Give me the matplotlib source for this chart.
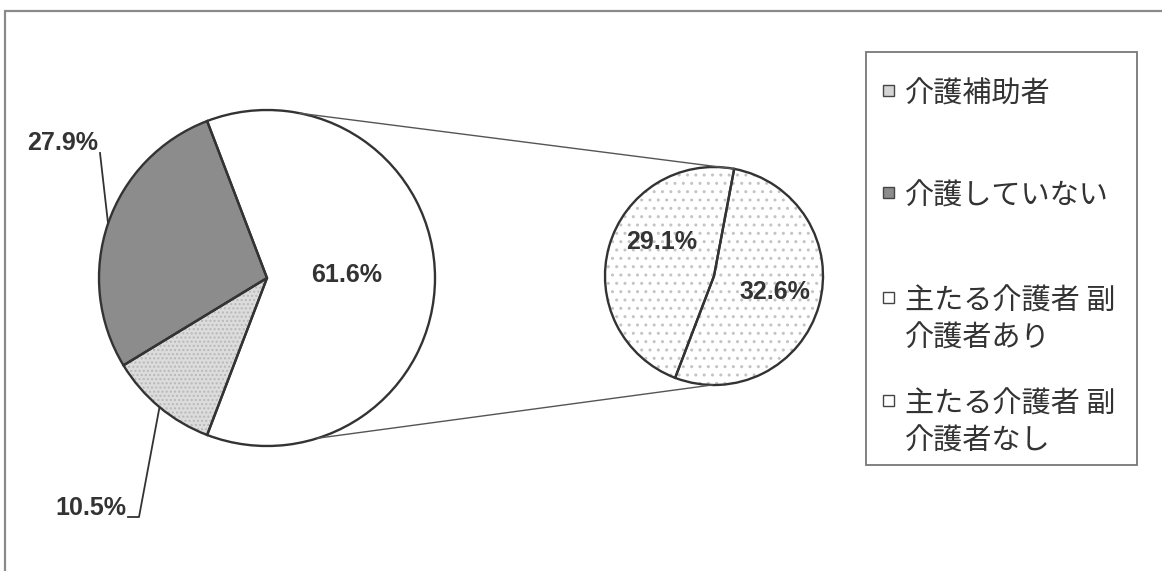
import matplotlib
matplotlib.use("Agg")
import matplotlib.pyplot as plt
from matplotlib.patches import Rectangle
import numpy as np

plt.rcParams['font.family'] = ['Noto Sans CJK JP', 'DejaVu Sans']

# ---- data ----
main_labels = ["主たる介護者", "介護していない", "介護補助者"]
main_values = [61.6, 27.9, 10.5]
sub_labels = ["主たる介護者 副介護者なし", "主たる介護者 副介護者あり"]
sub_values = [32.6, 29.1]
legend_labels = ["介護補助者", "介護していない", "主たる介護者 副介護者あり", "主たる介護者 副介護者なし"]

W, H = 1162, 571
fig = plt.figure(figsize=(W / 100, H / 100), dpi=100)
ax = fig.add_axes([0, 0, 1, 1])

def py(y):  # pixel y (top-down) -> data y
    return H - y

main_c = (267, py(278)); main_r = 168
sub_c = (714, py(276)); sub_r = 109
start = -main_values[0] * 3.6 / 2

# main pie: fill layer with hatch
face_main = ['white', '#8c8c8c', '#dcdcdc']
hatch_main = [None, None, '....']
w1, _ = ax.pie(main_values, center=main_c, radius=main_r, startangle=start,
               counterclock=True, colors=face_main,
               wedgeprops=dict(linewidth=0, edgecolor='#b8b8b8'))
for w, h in zip(w1, hatch_main):
    if h:
        w.set_hatch(h)
ax.pie(main_values, center=main_c, radius=main_r, startangle=start,
       wedgeprops=dict(fill=False, linewidth=1.7, edgecolor='#333333'))

# secondary pie
w2, _ = ax.pie(sub_values, center=sub_c, radius=sub_r, startangle=start,
               colors=['white', 'white'],
               wedgeprops=dict(linewidth=0, edgecolor='#c4c4c4', hatch='..'))
ax.pie(sub_values, center=sub_c, radius=sub_r, startangle=start,
       wedgeprops=dict(fill=False, linewidth=1.7, edgecolor='#333333'))

ax.set_xlim(0, W)
ax.set_ylim(0, H)
ax.set_aspect('equal')
ax.axis('off')

# outer frame
ax.add_patch(Rectangle((5, py(575)), 1170, 564, fill=False, edgecolor='#8a8a8a', lw=1.6))

# connector lines
def on_circle(c, r, deg):
    return c[0] + r * np.cos(np.radians(deg)), c[1] + r * np.sin(np.radians(deg))
sub_split = start + sub_values[0] / sum(sub_values) * 360
for a1, a2 in [(78.7, sub_split), (-72.5, -91.0)]:
    p1 = on_circle(main_c, main_r, a1); p2 = on_circle(sub_c, sub_r, a2)
    ax.plot([p1[0], p2[0]], [p1[1], p2[1]], color='#555555', lw=1.0)

# labels
lab_kw = dict(fontsize=18, fontweight='bold',
              family=['Liberation Sans', 'DejaVu Sans'],
              color='#333333', ha='center', va='center')
ax.text(347, py(275), f"{main_values[0]:.1f}%", **lab_kw)
ax.text(63, py(143), f"{main_values[1]:.1f}%", **lab_kw)
ax.text(91, py(508), f"{main_values[2]:.1f}%", **lab_kw)
ax.text(775, py(292), f"{sub_values[0]:.1f}%", **lab_kw)
ax.text(662, py(242), f"{sub_values[1]:.1f}%", **lab_kw)

# leader lines at wedge mid-angles
cum = np.cumsum([0] + main_values)
mid = [start + (cum[i] + cum[i + 1]) / 2 * 3.6 for i in range(3)]
e1 = on_circle(main_c, main_r, mid[1])
ax.plot([100, e1[0]], [py(153), e1[1]], color='#333333', lw=1.3)
e2 = on_circle(main_c, main_r, mid[2])
ax.plot([128, 139, e2[0]], [py(517), py(517), e2[1]], color='#333333', lw=1.3)

# legend
ax.add_patch(Rectangle((866, py(465)), 271, 413, fill=False, edgecolor='#777777', lw=1.3))
leg_face = ['#d4d4d4', '#8c8c8c', 'white', 'white']
leg_y = [95, 197, 302, 405]
line_gap = 37
for lab, fc, y in zip(legend_labels, leg_face, leg_y):
    lines = [lab] if len(lab) <= 8 else [lab[:8], lab[8:]]
    ax.add_patch(Rectangle((883, py(y + 1)), 11, 11, facecolor=fc, edgecolor='#444444', lw=1.0))
    for k, ln in enumerate(lines):
        ax.text(905, py(y + k * line_gap), ln, fontsize=21, color='#333333',
                ha='left', va='center')

fig.savefig("out.png", dpi=100)
